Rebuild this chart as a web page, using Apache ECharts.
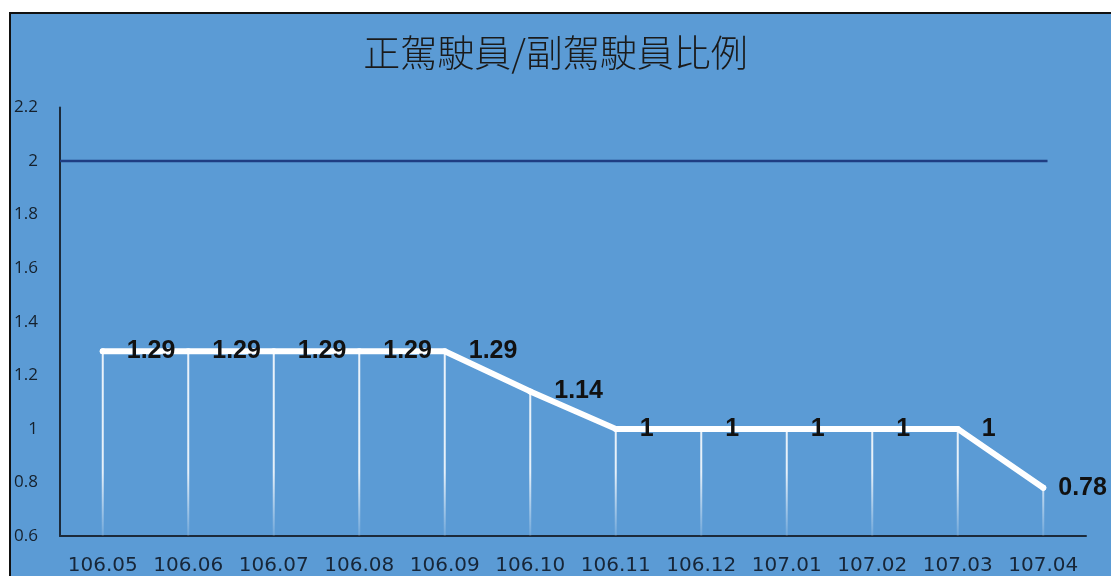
<!DOCTYPE html>
<html>
<head>
<meta charset="utf-8">
<script src="https://cdn.jsdelivr.net/npm/echarts@6/dist/echarts.min.js"></script>
<style>
  html, body { margin: 0; padding: 0; background: #ffffff; }
  #frame {
    position: absolute; left: 9px; top: 12px; width: 1102px; height: 564px;
    border-top: 2px solid #111; border-left: 2px solid #111;
    background: #5b9bd5;
  }
  #main { position: absolute; left: 0; top: 0; width: 1111px; height: 576px; }
</style>
</head>
<body>
<div id="frame"></div>
<div id="main"></div>
<script>
// Monthly ratio of drivers to co-drivers (ROC calendar year.month)
const months = ['106.05', '106.06', '106.07', '106.08', '106.09', '106.10',
                '106.11', '106.12', '107.01', '107.02', '107.03', '107.04'];
const ratios = [1.29, 1.29, 1.29, 1.29, 1.29, 1.14, 1, 1, 1, 1, 1, 0.78];
const targetRatio = 2;
const yTicks = { min: 0.6, max: 2.2, step: 0.2 };

const chart = echarts.init(document.getElementById('main'), null, { renderer: 'canvas' });

const axisDark = '#1c2a3a';

// Drop lines: white, fading out just above the category axis
const dropFade = {
  type: 'linear', x: 0, y: 0, x2: 0, y2: 576, global: true,
  colorStops: [
    { offset: 0, color: 'rgba(255,255,255,0.95)' },
    { offset: 0.82, color: 'rgba(255,255,255,0.85)' },
    { offset: 0.93, color: 'rgba(255,255,255,0.12)' }
  ]
};

const lastIdx = ratios.length - 1;

chart.setOption({
  animation: false,
  backgroundColor: 'transparent',
  title: {
    text: '正駕駛員/副駕駛員比例',
    left: 'center',
    top: 29,
    textStyle: {
      fontFamily: '"Noto Sans CJK TC", "Noto Sans CJK SC", sans-serif',
      fontSize: 37,
      fontWeight: 300,
      color: '#1a1a1a'
    }
  },
  grid: { left: 60, right: 25, top: 107.5, bottom: 39, containLabel: false },
  xAxis: [
    {
      type: 'category',
      data: months,
      boundaryGap: true,
      axisLine: { show: true, lineStyle: { color: axisDark, width: 2 } },
      axisTick: { show: false },
      axisLabel: {
        interval: 0,
        margin: 20,
        fontFamily: '"DejaVu Sans", sans-serif',
        fontSize: 20,
        color: '#172638'
      },
      splitLine: { show: false }
    },
    {
      // continuous companion axis used to run the target line from the y axis
      type: 'value',
      min: 0,
      max: months.length,
      show: false
    }
  ],
  yAxis: {
    type: 'value',
    min: yTicks.min,
    max: yTicks.max,
    interval: yTicks.step,
    axisLine: { show: true, lineStyle: { color: axisDark, width: 2 } },
    axisTick: { show: false },
    splitLine: { show: false },
    axisLabel: {
      margin: 22,
      fontFamily: '"Open Sans", sans-serif',
      fontSize: 17,
      color: '#15202c',
      formatter: v => String(Math.round(v * 10) / 10)
    }
  },
  series: [
    {
      name: 'drop',
      type: 'bar',
      data: ratios,
      barWidth: 2,
      clip: true,
      itemStyle: { color: dropFade },
      silent: true,
      z: 1
    },
    {
      name: 'target',
      type: 'line',
      xAxisIndex: 1,
      data: [[0, targetRatio], [lastIdx + 0.55, targetRatio]],
      symbol: 'none',
      lineStyle: { color: '#1f3d82', width: 2.5 },
      silent: true,
      z: 2
    },
    {
      name: 'ratio',
      type: 'line',
      data: ratios.map((v, i) => i === lastIdx
        ? { value: v, label: { distance: 12 } }
        : v),
      symbol: 'circle',
      symbolSize: 6,
      showSymbol: true,
      itemStyle: { color: '#ffffff', borderWidth: 0 },
      lineStyle: { color: '#ffffff', width: 6, cap: 'round', join: 'round' },
      label: {
        show: true,
        position: 'right',
        distance: 21,
        fontFamily: '"Liberation Sans", Arial, sans-serif',
        fontWeight: 'bold',
        fontSize: 25,
        color: '#111111'
      },
      z: 3
    }
  ]
});
</script>
</body>
</html>
